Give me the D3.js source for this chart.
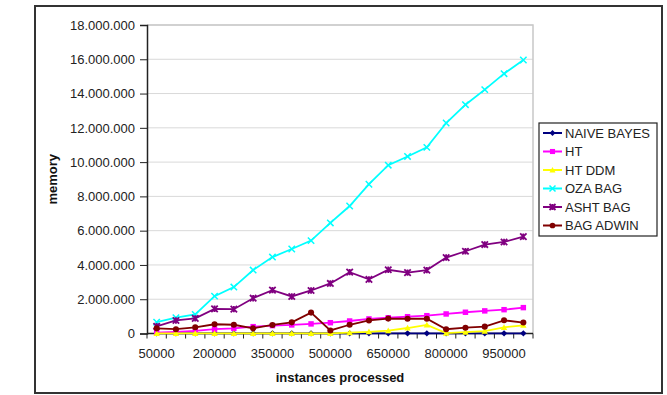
<!DOCTYPE html>
<html><head><meta charset="utf-8">
<script src="https://cdn.jsdelivr.net/npm/d3@7"></script>
<style>body{margin:0;background:#fff}svg{display:block;font-family:"Liberation Sans",Arial,sans-serif}</style>
</head><body>
<svg id="c" width="667" height="395"></svg>
<script>
const categories = [50000,100000,150000,200000,250000,300000,350000,400000,450000,500000,550000,600000,650000,700000,750000,800000,850000,900000,950000,1000000];
const naiveBayes = [10000,10000,10000,10000,10000,10000,10000,10000,10000,10000,10000,10000,10000,10000,10000,10000,10000,10000,10000,10000];
const ht = [50000,100000,150000,250000,300000,400000,460000,500000,560000,630000,730000,850000,920000,980000,1040000,1140000,1240000,1320000,1390000,1510000];
const htDdm = [10000,10000,10000,10000,10000,10000,10000,10000,10000,10000,50000,100000,170000,320000,500000,20000,80000,140000,360000,480000];
const ozaBag = [660000,920000,1110000,2180000,2710000,3700000,4460000,4930000,5420000,6450000,7440000,8710000,9820000,10330000,10860000,12280000,13350000,14230000,15160000,15960000];
const ashtBag = [420000,760000,880000,1440000,1420000,2060000,2530000,2160000,2510000,2920000,3580000,3160000,3720000,3550000,3700000,4430000,4800000,5190000,5340000,5650000];
const bagAdwin = [300000,250000,360000,540000,510000,300000,500000,650000,1220000,180000,510000,760000,870000,860000,860000,250000,340000,400000,770000,640000];
const seriesNames = ["NAIVE BAYES","HT","HT DDM","OZA BAG","ASHT BAG","BAG ADWIN"];
const seriesColors = ["#000080","#FF00FF","#FFFF00","#00FFFF","#800080","#800000"];
const seriesMarkers = ["diamond","square","triangle","x","star","circle"];
const yTicks = [0,2000000,4000000,6000000,8000000,10000000,12000000,14000000,16000000,18000000];
const xLabelValues = [50000,200000,350000,500000,650000,800000,950000];
const seriesValues = [naiveBayes, ht, htDdm, ozaBag, ashtBag, bagAdwin];

const svg = d3.select("#c");
const L=147,R=533,T=25,B=333.5;
const FS=13;
const x = d3.scaleBand().domain(categories).range([L,R]).padding(0);
const y = d3.scaleLinear().domain([0,18000000]).range([B,T]);
const loc = d3.formatLocale({decimal:",",thousands:".",grouping:[3],currency:["",""]});
const fmt = loc.format(",d");

// outer border
svg.append("rect").attr("x",35).attr("y",6).attr("width",627).attr("height",387)
  .attr("fill","none").attr("stroke","#333").attr("stroke-width",2);

// grid
svg.append("g").selectAll("line").data(yTicks.slice(1)).join("line")
  .attr("x1",L).attr("x2",R).attr("y1",d=>y(d)).attr("y2",d=>y(d))
  .attr("stroke","#d9d9d9").attr("stroke-width",1);
// plot border top/right
svg.append("path").attr("d",`M${L},${T}H${R}V${B}`).attr("fill","none").attr("stroke","#c8c8c8").attr("stroke-width",1.5);

// y axis
const ya = svg.append("g").attr("transform",`translate(${L},0)`)
  .call(d3.axisLeft(y).tickValues(yTicks).tickFormat(fmt).tickSize(7).tickPadding(5));
ya.select(".domain").attr("stroke","#222").attr("stroke-width",1.5);
ya.selectAll(".tick line").attr("stroke","#222");
ya.selectAll("text").attr("font-size",FS).attr("fill","#222").attr("font-family","Liberation Sans, Arial");

// x axis
const xa = svg.append("g").attr("transform",`translate(0,${B})`);
xa.append("line").attr("x1",L).attr("x2",R).attr("stroke","#222").attr("stroke-width",1.5);
const bounds = categories.map(c=>x(c)).concat([R]);
xa.selectAll(".tk").data(bounds).join("line").attr("class","tk")
  .attr("x1",d=>d).attr("x2",d=>d).attr("y1",0).attr("y2",5).attr("stroke","#222");
xa.selectAll(".lb").data(xLabelValues).join("text").attr("class","lb")
  .attr("x",d=>x(d)+x.bandwidth()/2).attr("y",24.5).attr("text-anchor","middle")
  .attr("font-size",FS).attr("fill","#222").text(d=>d);

// axis titles
svg.append("text").attr("x",340).attr("y",381.5).attr("text-anchor","middle")
  .attr("font-size",FS).attr("font-weight","bold").attr("fill","#111").text("instances processed");
svg.append("text").attr("transform",`translate(57,${(T+B)/2}) rotate(-90)`).attr("text-anchor","middle")
  .attr("font-size",FS).attr("font-weight","bold").attr("fill","#111").text("memory");

function marker(g, type, color, s){
  if(type==="diamond") g.append("path").attr("d",`M0,${-s}L${s},0L0,${s}L${-s},0Z`).attr("fill",color);
  else if(type==="square") g.append("rect").attr("x",-s*0.85).attr("y",-s*0.85).attr("width",s*1.7).attr("height",s*1.7).attr("fill",color);
  else if(type==="triangle") g.append("path").attr("d",`M0,${-s}L${s},${s*0.8}L${-s},${s*0.8}Z`).attr("fill",color);
  else if(type==="x") g.append("path").attr("d",`M${-s},${-s}L${s},${s}M${-s},${s}L${s},${-s}`).attr("stroke",color).attr("stroke-width",1.5);
  else if(type==="star") g.append("path").attr("d",`M${-s},${-s}L${s},${s}M${-s},${s}L${s},${-s}M0,${-s}V${s}`).attr("stroke",color).attr("stroke-width",1.8);
  else if(type==="circle") g.append("circle").attr("r",s*0.95).attr("fill",color);
}

const line = d3.line().x((d,i)=>x(categories[i])+x.bandwidth()/2).y(d=>y(d));
seriesValues.forEach((vals,si)=>{
  const g = svg.append("g");
  g.append("path").datum(vals).attr("d",line).attr("fill","none")
    .attr("stroke",seriesColors[si]).attr("stroke-width",1.8);
  vals.forEach((v,i)=>{
    const mg = g.append("g").attr("transform",`translate(${x(categories[i])+x.bandwidth()/2},${y(v)})`);
    marker(mg, seriesMarkers[si], seriesColors[si], 3.2);
  });
});

// legend
const lg = svg.append("g");
lg.append("rect").attr("x",539).attr("y",123).attr("width",118).attr("height",113)
  .attr("fill","#fff").attr("stroke","#222").attr("stroke-width",1.2);
seriesNames.forEach((n,i)=>{
  const yy = 133 + i*18.5;
  lg.append("line").attr("x1",543).attr("x2",562).attr("y1",yy).attr("y2",yy)
    .attr("stroke",seriesColors[i]).attr("stroke-width",2);
  marker(lg.append("g").attr("transform",`translate(552.5,${yy})`), seriesMarkers[i], seriesColors[i], 3);
  lg.append("text").attr("x",565).attr("y",yy+4.7).attr("font-size",FS).attr("fill","#222").text(n);
});
</script>
</body></html>
